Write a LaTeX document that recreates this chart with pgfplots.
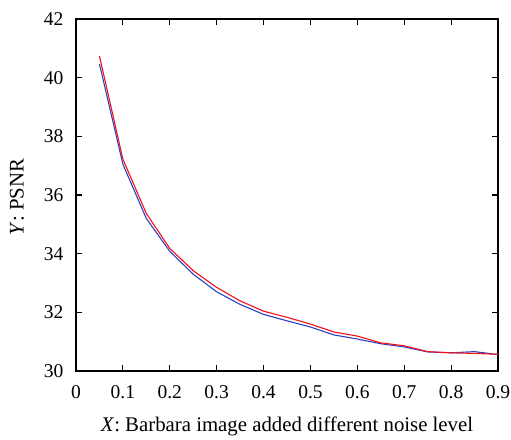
\documentclass[border=0pt]{standalone}
\usepackage{fontspec}
\setmainfont{Liberation Serif}
\usepackage{pgfplots}
\pgfplotsset{compat=1.18}
\definecolor{myblue}{RGB}{45,65,195}
\definecolor{myred}{RGB}{245,15,25}
\begin{document}
\begin{tikzpicture}
\begin{axis}[
  scale only axis,
  width=422pt, height=352pt,
  xmin=0, xmax=0.9, ymin=30, ymax=42,
  xtick={0,0.1,...,0.9},
  ytick={30,32,...,42},
  xticklabels={0,0.1,0.2,0.3,0.4,0.5,0.6,0.7,0.8,0.9},
  tick align=inside,
  major tick length=6pt,
  axis line style={line width=1.4pt},
  every tick/.style={line width=1pt, black},
  tick label style={font=\fontsize{19.5}{21}\selectfont},
  label style={font=\fontsize{20.8}{23}\selectfont},
  xticklabel style={anchor=base, yshift=-27pt},
  yticklabel style={anchor=east, xshift=-9pt, yshift=0pt},
  /pgf/number format/assume math mode=true,
  xlabel={\textit{X}: Barbara image added different noise level},
  ylabel={\textit{Y}: PSNR},
  xlabel style={at={(axis description cs:0.5,-0.15625)}, anchor=center},
  ylabel style={at={(axis description cs:-0.1398,0.494)}, anchor=center},
  clip=false,
]
\addplot[myblue, line width=1.1pt] coordinates {
(0.05,40.47) (0.10,37.05) (0.15,35.20) (0.20,34.08) (0.25,33.30) (0.30,32.70)
(0.35,32.27) (0.40,31.93) (0.45,31.71) (0.50,31.50) (0.55,31.23) (0.60,31.09)
(0.65,30.93) (0.70,30.82) (0.75,30.65) (0.80,30.62) (0.85,30.66) (0.90,30.56)
};
\addplot[myred, line width=1.1pt] coordinates {
(0.05,40.74) (0.10,37.22) (0.15,35.37) (0.20,34.18) (0.25,33.42) (0.30,32.85)
(0.35,32.39) (0.40,32.04) (0.45,31.83) (0.50,31.60) (0.55,31.33) (0.60,31.19)
(0.65,30.96) (0.70,30.86) (0.75,30.66) (0.80,30.62) (0.85,30.60) (0.90,30.57)
};
\end{axis}
\pgfresetboundingbox
\path (-76pt,-68pt) rectangle (435pt,371pt);
\end{tikzpicture}
\end{document}
